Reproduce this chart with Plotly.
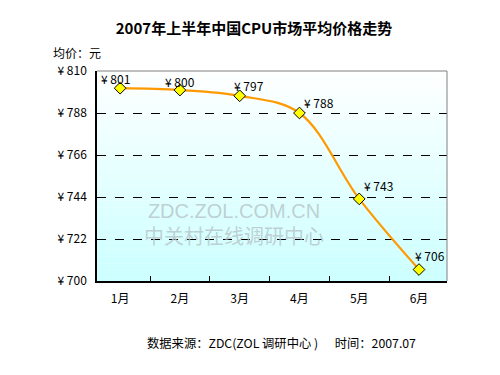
import plotly.graph_objects as go

months = ["1月", "2月", "3月", "4月", "5月", "6月"]
prices = [801, 800, 797, 788, 743, 706]
y_tickvals = [700, 722, 744, 766, 788, 810]
y_ticktext = ["¥ 700", "¥ 722", "¥ 744", "¥ 766", "¥ 788", "¥ 810"]

# label offsets (style only)
label_dx = [-5, 0, 9, 20, 19, 11]
label_dy = [10, 9, 10, 11, 13, 14]

FONT = "Noto Sans CJK SC, Liberation Sans, Arial, sans-serif"
LAT = "Liberation Sans, Arial, sans-serif"

# page body has an 8px default margin -> figure is 8px smaller than the window
W, H = 492, 367
ML, MR, MT, MB = 89, 53, 63, 94
PW, PH = W - ML - MR, H - MT - MB


def px_x(sx):
    return (sx - 8 - ML) / PW


def px_y(sy):
    return 1 - (sy - 8 - MT) / PH


fig = go.Figure()
fig.add_trace(go.Scatter(
    x=months, y=prices, mode="lines+markers",
    line=dict(color="#FF9900", width=2.2, shape="spline", smoothing=1),
    marker=dict(symbol="diamond", size=9, color="#FFFF00", line=dict(color="#000000", width=1)),
    cliponaxis=False, showlegend=False,
))

shapes = []
n = 60
top = (255, 255, 255)
bot = (204, 255, 255)
for i in range(n):
    t = (i + 0.5) / n
    r = int(top[0] + (bot[0] - top[0]) * t)
    g = int(top[1] + (bot[1] - top[1]) * t)
    b = int(top[2] + (bot[2] - top[2]) * t)
    shapes.append(dict(type="rect", xref="x domain", yref="y domain",
                       x0=0, x1=1, y0=1 - (i + 1) / n, y1=1 - i / n + 0.001,
                       fillcolor="rgb(%d,%d,%d)" % (r, g, b), line=dict(width=0), layer="below"))
shapes.append(dict(type="line", xref="x domain", yref="y domain", x0=0, x1=1, y0=1, y1=1,
                   line=dict(color="#808080", width=1)))
shapes.append(dict(type="line", xref="x domain", yref="y domain", x0=1, x1=1, y0=0, y1=1,
                   line=dict(color="#808080", width=1)))

annotations = []
for m, v, dx, dy in zip(months, prices, label_dx, label_dy):
    annotations.append(dict(x=m, y=v, xref="x", yref="y", text="¥ %d" % v, showarrow=False,
                            xanchor="center", yanchor="middle", xshift=dx, yshift=dy,
                            font=dict(size=12, color="#000000", family=FONT)))

# watermark
annotations.append(dict(text="<span style='font-family:Liberation Sans, Arial'>ZDC.ZOL.COM.CN</span><br>中关村在线调研中心",
                        xref="paper", yref="paper", x=px_x(234), y=px_y(225),
                        xanchor="center", yanchor="middle", showarrow=False,
                        font=dict(size=20, family=FONT, color="rgba(185,200,204,0.85)")))

annotations.append(dict(text="均价：元", xref="paper", yref="paper", x=px_x(51), y=px_y(52),
                        xanchor="left", yanchor="middle", showarrow=False, font=dict(size=12)))
annotations.append(dict(text="数据来源：ZDC(ZOL 调研中心 )&nbsp;&nbsp;&nbsp;&nbsp;&nbsp;&nbsp;时间：2007.07",
                        xref="paper", yref="paper", x=px_x(145), y=px_y(343), xanchor="left",
                        yanchor="middle", showarrow=False, font=dict(size=12.3)))

fig.update_layout(
    width=W, height=H,
    margin=dict(l=ML, r=MR, t=MT, b=MB),
    paper_bgcolor="white", plot_bgcolor="rgba(0,0,0,0)",
    font=dict(family=FONT, size=12, color="#000000"),
    shapes=shapes,
    title=dict(text="<b>2007年上半年中国CPU市场平均价格走势</b>", x=0.5, xanchor="center",
               y=1 - (29 - 8) / H, yanchor="middle", font=dict(size=15, family=FONT)),
    xaxis=dict(showgrid=False, showline=True, linecolor="#000000", linewidth=1.5,
               ticks="inside", tickson="boundaries", ticklen=5, tickcolor="#000000",
               tickfont=dict(size=12), ticklabelstandoff=6),
    yaxis=dict(range=[700, 810], tickvals=y_tickvals, ticktext=y_ticktext,
               showgrid=True, gridcolor="#000000", griddash="dash", gridwidth=1,
               showline=True, linecolor="#000000", linewidth=1.5, zeroline=False,
               ticks="", tickfont=dict(size=12), ticklabelstandoff=6),
    annotations=annotations,
)

fig.write_html("out.html")
